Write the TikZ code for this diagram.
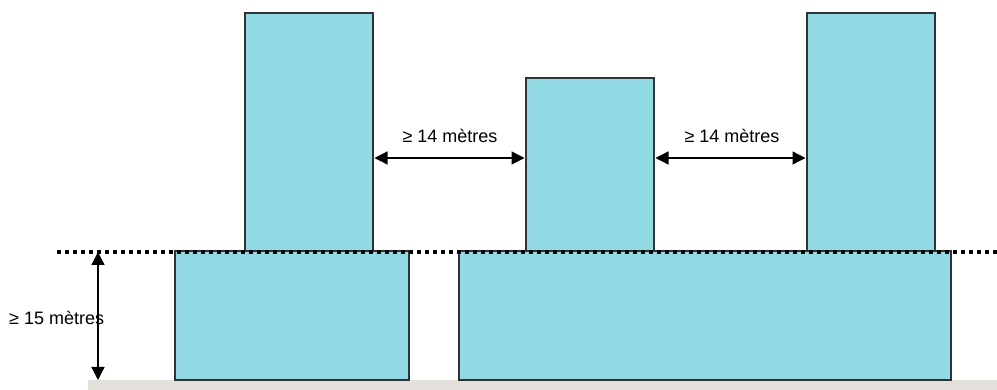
\documentclass[tikz,border=0pt]{standalone}
\usepackage{fontspec}
\setmainfont{Liberation Sans}
\usetikzlibrary{arrows.meta}
\definecolor{bldfill}{HTML}{91DAE3}
\definecolor{bldline}{HTML}{2E3436}
\definecolor{ground}{HTML}{E4E0DC}
\begin{document}
\begin{tikzpicture}[x=1pt,y=-1pt,
  bld/.style={draw=bldline,fill=bldfill,line width=1.2pt,inner sep=0,outer sep=0,anchor=north west},
  dim/.style={line width=1.3pt,{Triangle[length=13pt,width=13pt]}-{Triangle[length=13pt,width=13pt]}},
  lbl/.style={font=\fontsize{18}{21}\selectfont,inner sep=0}]
\useasboundingbox (0,0) rectangle (997,390);
\fill[ground] (88,380) rectangle (997,390);
\node[bld,minimum width=128pt,minimum height=238pt] (t1) at (245,13) {};
\node[bld,minimum width=128pt,minimum height=173pt] (t2) at (526,78) {};
\node[bld,minimum width=128pt,minimum height=238pt] (t3) at (807,13) {};
\node[bld,minimum width=234pt,minimum height=129pt] (b1) at (175,251) {};
\node[bld,minimum width=492pt,minimum height=129pt] (b2) at (459,251) {};
\coordinate (dl) at (57,252);
\coordinate (dr) at (997,252);
\draw[line width=3.6pt,dash pattern=on 3.6pt off 4.4pt] (dl) -- (dr);
\coordinate (vt) at (98,252);
\coordinate (vb) at (98,380);
\draw[dim] (vt) -- (vb);
\node[lbl,anchor=west] (l15) at (9,318) {≥ 15 mètres};
\coordinate (a1) at (t1.east |- 0,158);
\coordinate (a2) at (t2.west |- 0,158);
\coordinate (a3) at (t2.east |- 0,158);
\coordinate (a4) at (t3.west |- 0,158);
\draw[dim] ([xshift=1.5pt]a1) -- ([xshift=-1.5pt]a2);
\draw[dim] ([xshift=1.5pt]a3) -- ([xshift=-1.5pt]a4);
\node[lbl] (l14a) at (450,136) {≥ 14 mètres};
\node[lbl] (l14b) at (732,136) {≥ 14 mètres};
\end{tikzpicture}
\end{document}
